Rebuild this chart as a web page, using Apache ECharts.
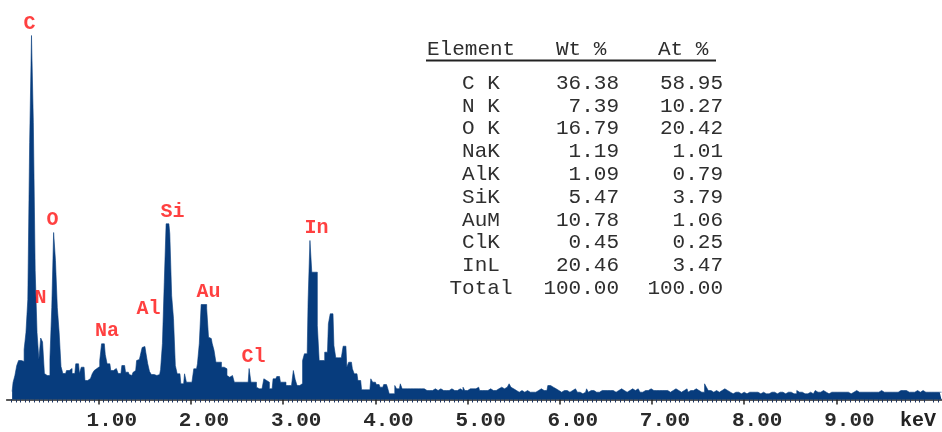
<!DOCTYPE html>
<html>
<head>
<meta charset="utf-8">
<script src="https://cdn.jsdelivr.net/npm/echarts@6/dist/echarts.min.js"></script>
<style>
  html, body { margin: 0; padding: 0; background: #ffffff; }
  #chart { width: 942px; height: 432px; }
</style>
</head>
<body>
<div id="chart"></div>
<script>
// EDS spectrum: counts per 0.02 keV channel, split into energy segments.
const CHANNEL_KEV = 0.02;

const startA = 0.06; // 0.06 - 1.00 keV : C, N, O region
const countsA = [80, 170, 240, 340, 390, 390, 380, 500, 670, 1000,
  2570, 3640, 2770, 1290, 670, 400, 615, 575, 260, 240,
  240, 410, 920, 1670, 1390, 920, 670, 330, 260, 260,
  290, 290, 310, 260, 260, 357, 357, 260, 323, 323,
  190, 190, 210, 220, 260, 290, 310, 330];

const startB = 1.02; // 1.02 - 2.00 keV : Na, Al, Si
const countsB = [390, 557, 557, 450, 357, 357, 290, 290, 310, 310,
  260, 260, 340, 340, 273, 273, 250, 240, 270, 290,
  390, 400, 440, 520, 530, 470, 360, 280, 250, 250,
  240, 250, 250, 300, 560, 1170, 1757, 1757, 1657, 1040,
  810, 340, 257, 257, 157, 157, 257, 173, 173, 173];

const startC = 2.02; // 2.02 - 3.00 keV : Au M, Cl
const countsC = [173, 307, 307, 357, 560, 950, 950, 950, 910, 623,
  610, 560, 490, 373, 373, 373, 323, 323, 307, 240,
  223, 240, 223, 173, 173, 173, 173, 173, 173, 173,
  173, 310, 173, 173, 173, 123, 107, 107, 107, 207,
  190, 173, 107, 107, 207, 207, 230, 230, 173, 173];

const startD = 3.02; // 3.02 - 4.00 keV : In L family
const countsD = [173, 140, 140, 140, 140, 290, 200, 140, 140, 160,
  390, 457, 457, 990, 1590, 1273, 1273, 1273, 740, 390,
  390, 390, 473, 473, 757, 857, 857, 540, 417, 417,
  417, 417, 533, 533, 323, 373, 373, 307, 257, 257,
  190, 190, 97, 97, 97, 97, 97, 207, 173, 173];

const startE = 4.02; // 4.02 - 6.00 keV background
const countsE = [150, 150, 123, 123, 150, 150, 123, 57, 57, 57,
  140, 107, 107, 157, 107, 107, 107, 107, 107, 107,
  107, 107, 107, 107, 107, 107, 90, 90, 90, 107,
  90, 107, 123, 90, 107, 107, 90, 90, 73, 90,
  107, 107, 90, 90, 90, 107, 90, 123, 90, 90,
  107, 123, 107, 107, 107, 123, 90, 90, 90, 90,
  90, 107, 90, 90, 90, 90, 107, 123, 107, 107,
  123, 140, 157, 123, 107, 90, 73, 73, 90, 90,
  73, 90, 90, 73, 73, 57, 73, 90, 90, 107,
  90, 90, 90, 140, 140, 123, 123, 107, 90, 90];

const startF = 6.02; // 6.02 - 8.00 keV background
const countsF = [73, 90, 90, 90, 73, 73, 90, 107, 107, 73,
  73, 57, 73, 73, 107, 73, 90, 90, 90, 73,
  73, 57, 90, 90, 107, 90, 90, 107, 90, 73,
  73, 90, 107, 90, 90, 73, 73, 90, 107, 90,
  90, 107, 90, 73, 73, 90, 90, 90, 107, 90,
  90, 90, 73, 90, 90, 107, 90, 90, 73, 73,
  90, 107, 107, 90, 90, 73, 90, 90, 107, 73,
  90, 90, 107, 107, 90, 90, 73, 73, 157, 123,
  90, 90, 73, 90, 90, 73, 73, 90, 107, 90,
  90, 73, 73, 57, 73, 73, 73, 57, 73, 73];

const startG = 8.02; // 8.02 - 10.14 keV background
const countsG = [57, 73, 73, 73, 57, 73, 73, 73, 57, 73,
  73, 57, 57, 73, 73, 73, 73, 57, 73, 73,
  73, 57, 73, 73, 73, 73, 57, 57, 90, 73,
  73, 73, 57, 57, 57, 73, 57, 73, 90, 73,
  73, 73, 90, 73, 57, 57, 73, 73, 73, 73,
  73, 73, 73, 57, 73, 73, 73, 57, 73, 73,
  90, 73, 73, 73, 73, 57, 73, 73, 90, 73,
  73, 73, 73, 90, 90, 73, 73, 90, 73, 73,
  90, 73, 73, 73, 90, 90, 107, 90, 73, 73,
  73, 73, 90, 90, 73, 73, 90, 73, 73, 73,
  73, 90, 73, 73, 73, 73, 73];

// Peak annotations: element symbol, label anchor energy (keV) and height (counts)
const peakNames   = ['C', 'N', 'O', 'Na', 'Al', 'Si', 'Au', 'Cl', 'In'];
const peakLabelKeV = [0.248, 0.368, 0.498, 1.089, 1.539, 1.799, 2.190, 2.678, 3.361];
const peakLabelCounts = [3760, 1020, 1800, 690, 910, 1875, 1080, 430, 1720];

// Quantification table
const tableElements = ['C K', 'N K', 'O K', 'NaK', 'AlK', 'SiK', 'AuM', 'ClK', 'InL', 'Total'];
const tableWt = ['36.38', '7.39', '16.79', '1.19', '1.09', '5.47', '10.78', '0.45', '20.46', '100.00'];
const tableAt = ['58.95', '10.27', '20.42', '1.01', '0.79', '3.79', '1.06', '0.25', '3.47', '100.00'];

// Energy axis labels
const tickValues = [1, 2, 3, 4, 5, 6, 7, 8, 9];

const MONO = '"Liberation Mono", "DejaVu Sans Mono", monospace';
const SPECTRUM_BLUE = '#073c7d';

function toPoints(start, counts) {
  return counts.map((c, i) => [Math.round((start + i * CHANNEL_KEV) * 100) / 100, c]);
}
const spectrum = [].concat(
  toPoints(startA, countsA), toPoints(startB, countsB), toPoints(startC, countsC),
  toPoints(startD, countsD), toPoints(startE, countsE), toPoints(startF, countsF),
  toPoints(startG, countsG)
);

const labelPoints = peakNames.map((n, i) => ({ name: n, value: [peakLabelKeV[i], peakLabelCounts[i]] }));

// Table text elements
const graphics = [];
const headY = 49, rowY0 = 83.3, rowStep = 22.8;
const tableFont = { fontFamily: MONO, fontSize: 21, fill: '#2e2e2e' };
graphics.push({ type: 'text', x: 427, y: headY, style: Object.assign({ text: 'Element', align: 'left', verticalAlign: 'middle' }, tableFont) });
graphics.push({ type: 'text', x: 556, y: headY, style: Object.assign({ text: 'Wt %', align: 'left', verticalAlign: 'middle' }, tableFont) });
graphics.push({ type: 'text', x: 658, y: headY, style: Object.assign({ text: 'At %', align: 'left', verticalAlign: 'middle' }, tableFont) });
graphics.push({ type: 'line', shape: { x1: 426, y1: 60.5, x2: 716, y2: 60.5 }, style: { stroke: '#222', lineWidth: 2 } });
tableElements.forEach((el, i) => {
  const y = rowY0 + i * rowStep;
  graphics.push({ type: 'text', x: 481, y: y, style: Object.assign({ text: el, align: 'center', verticalAlign: 'middle' }, tableFont) });
  graphics.push({ type: 'text', x: 619, y: y, style: Object.assign({ text: tableWt[i], align: 'right', verticalAlign: 'middle' }, tableFont) });
  graphics.push({ type: 'text', x: 723, y: y, style: Object.assign({ text: tableAt[i], align: 'right', verticalAlign: 'middle' }, tableFont) });
});
graphics.push({ type: 'text', x: 918, y: 421, style: { text: 'keV', align: 'center', verticalAlign: 'middle', fontFamily: MONO, fontSize: 20, fontWeight: 'bold', fill: '#222' } });

const chart = echarts.init(document.getElementById('chart'), null, { renderer: 'canvas' });
chart.setOption({
  animation: false,
  backgroundColor: '#ffffff',
  grid: { left: 6.6, right: 0, top: 2.5, bottom: 29.5 },
  xAxis: [{
    type: 'value', min: 0, max: 10.145, interval: 1,
    axisLine: { show: true, lineStyle: { color: '#222', width: 1.5 } },
    axisTick: { show: true, inside: false, length: 5, customValues: tickValues, lineStyle: { color: '#222', width: 1.5 } },
    axisLabel: {
      show: true, customValues: tickValues, margin: 8, fontFamily: MONO, fontSize: 21, fontWeight: 'bold',
      color: '#2a2a2a', padding: [0, 0, 0, 26], formatter: v => v.toFixed(2)
    },
    splitLine: { show: false }
  }, {
    type: 'value', min: 0, max: 10.145, interval: 1, position: 'bottom',
    axisLine: { show: false },
    axisTick: { show: false, inside: true },
    minorTick: { show: true, splitNumber: 20, length: 3, lineStyle: { color: '#1d3560', width: 1 } },
    axisLabel: { show: false },
    splitLine: { show: false }
  }],
  yAxis: {
    type: 'value', min: -30, max: 3970, show: false
  },
  graphic: graphics,
  series: [{
    type: 'line',
    data: spectrum,
    step: 'middle',
    symbol: 'none',
    lineStyle: { width: 0.6, color: SPECTRUM_BLUE },
    areaStyle: { color: SPECTRUM_BLUE, opacity: 1 },
    z: 2
  }, {
    type: 'scatter',
    data: labelPoints,
    symbolSize: 1,
    itemStyle: { color: 'rgba(255,255,255,0)' },
    label: {
      show: true, position: 'inside', formatter: p => p.name,
      fontFamily: MONO, fontSize: 20, fontWeight: 'bold', color: '#ff1010'
    },
    labelLayout: { hideOverlap: false },
    z: 5
  }]
});
</script>
</body>
</html>
